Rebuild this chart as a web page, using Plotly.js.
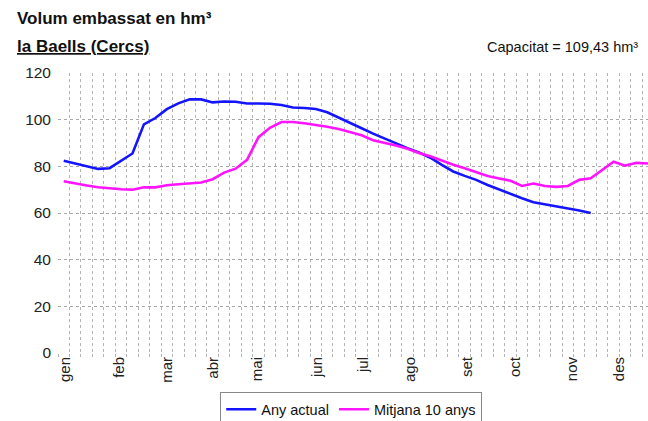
<!DOCTYPE html>
<html>
<head>
<meta charset="utf-8">
<script src="https://cdn.plot.ly/plotly-3.0.1.min.js"></script>
<style>html,body{margin:0;padding:0;background:#fff;}#chart{width:648px;height:421px;}</style>
</head>
<body>
<div id="chart"></div>
<script>
// Month labels and their positions (in weeks)
const months = ["gen","feb","mar","abr","mai","jun","jul","ago","set","oct","nov","des"];
const monthPos = [0.6, 5.3, 9.5, 13.5, 17.4, 22.6, 26.6, 30.7, 35.7, 39.9, 44.9, 49.0];

// Weekly values (hm³)
const anyActual = [82.4,81.3,80.0,78.9,79.2,82.4,85.5,98.0,100.7,104.5,107.0,108.7,108.7,107.4,107.8,107.7,
  106.9,106.9,106.8,106.3,105.2,105.0,104.6,103.2,100.8,98.5,96.3,94.0,91.9,89.7,87.8,86.0,83.7,80.6,
  77.8,75.9,74.2,72.0,70.0,68.1,66.3,64.6,63.8,62.9,62.0,61.1,60.0];
const mitjana = [73.6,72.6,71.8,71.0,70.5,70.2,70.0,71.0,71.0,71.9,72.3,72.6,73.1,74.5,77.3,79.0,
  82.8,92.5,96.5,99.0,99.0,98.5,97.9,97.0,96.0,94.7,93.3,91.2,90.2,88.9,87.5,85.7,84.3,82.4,
  80.7,79.2,77.6,75.9,74.8,73.8,71.6,72.6,71.6,71.2,71.6,74.2,74.9,78.5,82.0,80.3,81.5,81.2];

const weeksA = anyActual.map((_, i) => i + 0.5);
const weeksM = mitjana.map((_, i) => i + 0.5);

const FONT = "Liberation Sans, Arial, sans-serif";

const traces = [
  {x: weeksA, y: anyActual, type: "scatter", mode: "lines", name: "Any actual",
   line: {color: "#1414ff", width: 2.6}},
  {x: weeksM, y: mitjana, type: "scatter", mode: "lines", name: "Mitjana 10 anys",
   line: {color: "#ff14ff", width: 2.6}}
];

const layout = {
  width: 648, height: 421,
  margin: {l: 58, r: 0, t: 73, b: 68},
  paper_bgcolor: "#fff", plot_bgcolor: "#fff",
  font: {family: FONT, size: 14.5, color: "#222"},
  showlegend: true,
  legend: {orientation: "h", xref: "paper", x: 0.497, xanchor: "center",
    yref: "container", y: 0.068, yanchor: "top",
    bordercolor: "#888", borderwidth: 1, font: {size: 14.5, color: "#111"},
    tracegroupgap: 0, itemwidth: 30},
  xaxis: {
    range: [0, 51.5], fixedrange: true, automargin: false,
    tickmode: "array", tickvals: monthPos, ticktext: months, tickangle: -90,
    showgrid: false, zeroline: false, showline: false, ticks: "",
    tickfont: {size: 15, color: "#222"},
    minor: {tickmode: "linear", tick0: 0, dtick: 1, showgrid: true, gridcolor: "#b4b4b4",
      griddash: "dot", gridwidth: 1, ticks: "outside", ticklen: 3, tickcolor: "#b4b4b4"}
  },
  yaxis: {
    range: [0, 120], tickmode: "linear", tick0: 0, dtick: 20, fixedrange: true, automargin: false,
    showgrid: true, gridcolor: "#a8a8a8", griddash: "dot", gridwidth: 1,
    zeroline: false, showline: false, ticks: "", ticklabelstandoff: 6,
    tickfont: {size: 15.5, color: "#222"}
  },
  annotations: [
    {text: "<b>Volum embassat en hm³</b>", xref: "paper", yref: "paper",
     x: -0.0729, y: 1.196, xanchor: "left", yanchor: "middle", showarrow: false,
     font: {size: 17, color: "#111"}},
    {text: "<b><u>la Baells (Cercs)</u></b>", xref: "paper", yref: "paper",
     x: -0.0729, y: 1.093, xanchor: "left", yanchor: "middle", showarrow: false,
     font: {size: 17, color: "#111"}},
    {text: "Capacitat = 109,43 hm³", xref: "paper", yref: "paper",
     x: 0.986, y: 1.093, xanchor: "right", yanchor: "middle", showarrow: false,
     font: {size: 14.5, color: "#111"}}
  ]
};

Plotly.newPlot("chart", traces, layout, {displayModeBar: false, staticPlot: true});
</script>
</body>
</html>
